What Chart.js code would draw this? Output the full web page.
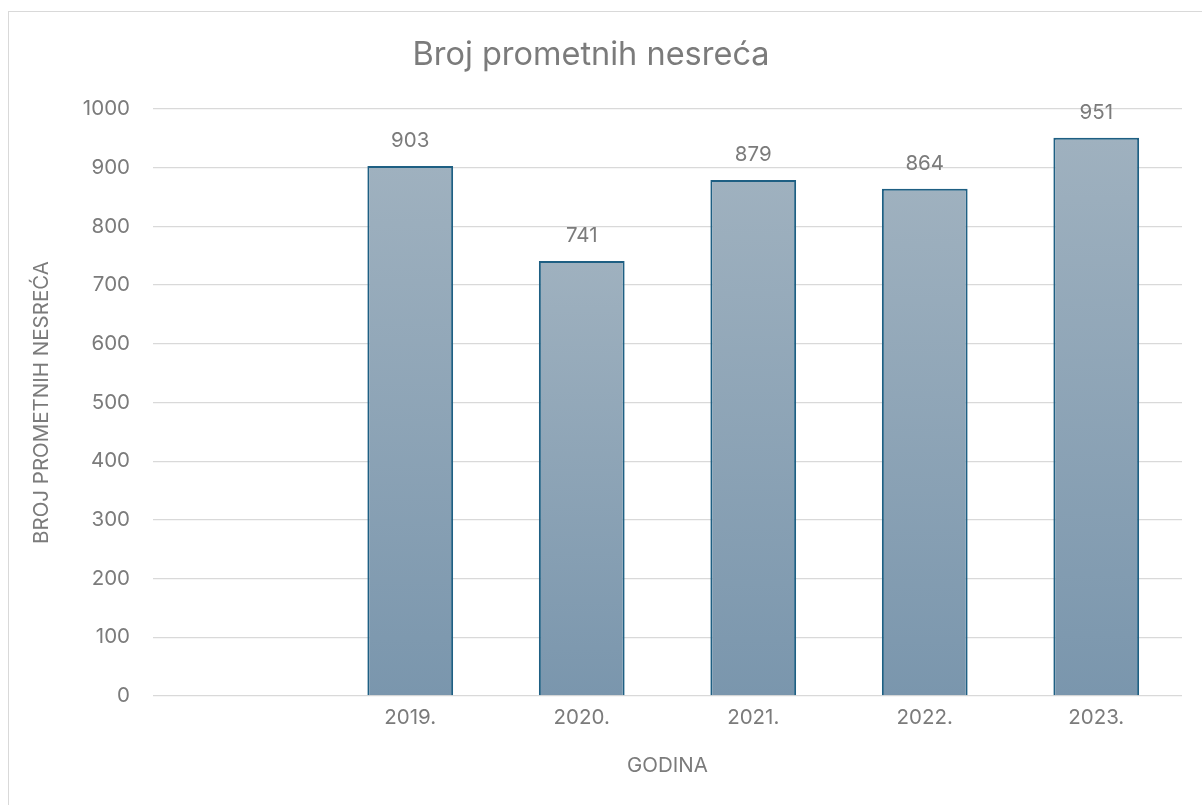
<!DOCTYPE html>
<html>
<head>
<meta charset="utf-8">
<script src="https://cdn.jsdelivr.net/npm/chart.js@4"></script>
<style>
  html, body { margin: 0; padding: 0; background: #fff; overflow: hidden; }
  #frame { position: absolute; left: 8px; top: 11px; width: 1400px; height: 1000px;
           border-left: 1px solid #d9d9d9; border-top: 1px solid #d9d9d9; }
  #wrap { position: absolute; left: 0; top: 0; width: 1202px; height: 805px; }
</style>
</head>
<body>
<div id="frame"></div>
<div id="wrap"><canvas id="chart"></canvas></div>
<script>
'use strict';

// first slot is empty in the original chart
const years = ['', '2019.', '2020.', '2021.', '2022.', '2023.'];
const accidents = [null, 903, 741, 879, 864, 951];
const yTicks = [0, 100, 200, 300, 400, 500, 600, 700, 800, 900, 1000];

const textGray = '#7b7b7b';
const fontFamily = 'Inter, "Open Sans", sans-serif';
const smallSize = 20.5;

let canvasElem = document.getElementById('chart');

// per-bar vertical gradient, lighter on top
function barFill(ctx) {
    const chart = ctx.chart;
    const yScale = chart.scales.y;
    const v = ctx.raw;
    if (!yScale || v == null) return '#8aa2b6';
    const top = yScale.getPixelForValue(v);
    const base = yScale.getPixelForValue(0);
    const g = chart.ctx.createLinearGradient(0, top, 0, base);
    g.addColorStop(0, '#9fb1bf');
    g.addColorStop(1, '#7a96ad');
    return g;
}

const valueLabels = {
    id: 'valueLabels',
    afterDatasetsDraw(chart) {
        const c = chart.ctx;
        const meta = chart.getDatasetMeta(0);
        c.save();
        c.font = smallSize + 'px ' + fontFamily;
        c.fillStyle = textGray;
        c.textAlign = 'center';
        c.textBaseline = 'middle';
        meta.data.forEach((bar, i) => {
            if (accidents[i] == null) return;
            c.fillText(String(accidents[i]), bar.x, bar.y - 25);
        });
        c.restore();
    }
};

function renderChart() {
    const data = {
        labels: years,
        datasets: [{
            label: 'Broj prometnih nesreća',
            data: accidents,
            backgroundColor: barFill,
            borderColor: '#1e5f83',
            borderWidth: 2,
            categoryPercentage: 1,
            barPercentage: 0.5
        }]
    };

    const config = {
        type: 'bar',
        data: data,
        options: {
            responsive: true,
            maintainAspectRatio: false,
            animation: false,
            layout: { padding: { left: 0, right: 20, top: 0, bottom: 0 } },
            plugins: {
                legend: { display: false },
                tooltip: { enabled: false },
                title: {
                    display: true,
                    text: 'Broj prometnih nesreća',
                    color: textGray,
                    font: { family: fontFamily, size: 32.5, weight: 'normal' },
                    padding: { top: 36, bottom: 34 }
                }
            },
            scales: {
                x: {
                    grid: { display: false, drawTicks: false },
                    border: { display: false },
                    ticks: { color: textGray, font: { family: fontFamily, size: smallSize }, padding: 10 },
                    title: {
                        display: true,
                        text: 'GODINA',
                        color: textGray,
                        font: { family: fontFamily, size: smallSize },
                        padding: { top: 0, bottom: 27 }
                    },
                    afterFit(s) { s.height = 109; }
                },
                y: {
                    min: 0,
                    max: 1000,
                    afterBuildTicks(s) { s.ticks = yTicks.map(v => ({ value: v })); },
                    grid: { color: '#d9d9d9', lineWidth: 1.3, drawTicks: false },
                    border: { display: false },
                    ticks: {
                        color: textGray,
                        font: { family: fontFamily, size: smallSize },
                        padding: 23,
                        callback: (v) => String(v)
                    },
                    title: {
                        display: true,
                        text: 'BROJ PROMETNIH NESREĆA',
                        color: textGray,
                        font: { family: fontFamily, size: smallSize },
                        padding: { top: 30, bottom: 0 }
                    },
                    afterFit(s) { s.width = 153; }
                }
            }
        },
        plugins: [valueLabels]
    };
    const myGraph = new Chart(canvasElem, config);
}

renderChart();
</script>
</body>
</html>
